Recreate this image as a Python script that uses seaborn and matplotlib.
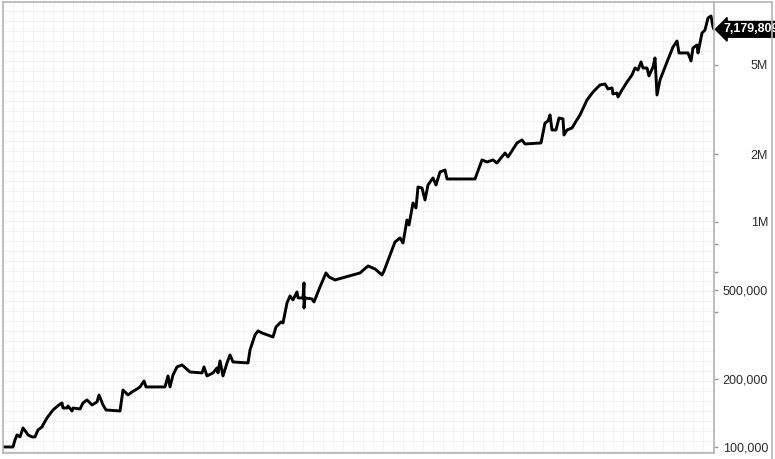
import numpy as np
import pandas as pd
import seaborn as sns
import matplotlib.pyplot as plt
import matplotlib.ticker as mticker
from matplotlib.lines import Line2D

# equity curve (trading day index, account value)
days = [1, 10, 12, 14, 17, 20, 23, 25, 29, 32, 35, 39, 40, 44, 50, 56, 59, 60, 64, 65,
        69, 70, 77, 80, 84, 89, 94, 96, 100, 103, 117, 120, 123, 125, 129, 134, 137, 141, 143, 162,
        165, 167, 170, 174, 179, 187, 199, 201, 204, 210, 214, 215, 217, 220, 224, 227, 230, 245, 247, 252,
        255, 259, 270, 273, 278, 280, 284, 287, 290, 294, 295, 300, 301, 301, 302, 309, 311, 317, 323, 326,
        332, 357, 365, 372, 379, 381, 392, 397, 400, 404, 406, 410, 413, 415, 419, 422, 425, 430, 433, 437,
        442, 444, 472, 479, 484, 490, 494, 502, 505, 514, 519, 522, 538, 542, 545, 547, 549, 553, 556, 560,
        561, 564, 569, 572, 577, 584, 590, 597, 602, 605, 609, 610, 614, 615, 619, 624, 629, 632, 635, 638,
        640, 644, 646, 650, 652, 654, 657, 664, 670, 674, 676, 685, 688, 690, 694, 695, 699, 702, 705, 708,
        710, 711]
equity = [100000, 100000, 107400, 113100, 110800, 121500, 116600, 113100, 110800, 110800,
          119000, 122700, 125300, 134600, 146000, 153700, 156900, 149000, 149000, 152100,
          144500, 149000, 147500, 156900, 161800, 153700, 158500, 170200, 153700, 146000,
          144500, 179200, 173800, 170200, 175600, 181000, 184800, 196500, 184800, 184800,
          206800, 184800, 208900, 226800, 231500, 215400, 213300, 226800, 206800, 213300,
          224500, 213300, 241200, 206800, 236300, 256400, 238700, 236300, 269800, 314600,
          327800, 321100, 308300, 341500, 359400, 355700, 436500, 469100, 450300, 488700,
          459600, 459600, 535800, 414700, 459600, 454900, 441000, 514300, 593400, 569600,
          552400, 593400, 637500, 618200, 581400, 605700, 814900, 848900, 806600, 1020700,
          969800, 1214600, 1154100, 1430700, 1416100, 1252600, 1460300, 1568700, 1460300, 1668100,
          1702500, 1552700, 1552700, 1886200, 1847800, 1886200, 1829000, 2025600, 1944600, 2244900,
          2314900, 2222000, 2244900, 2754200, 2811300, 2990000, 2563900, 2563900, 2899700, 2870200,
          2436300, 2563900, 2616800, 2754200, 2990000, 3484200, 3782500, 4063000, 4104800, 3900700,
          3940900, 3705800, 3743900, 3593800, 3860700, 4189600, 4502500, 4834600, 4736700, 5143000,
          4834600, 4834600, 4456600, 4886500, 5358000, 3668100, 4277200, 5143000, 5994800, 6374800,
          5638300, 5638300, 5196000, 5934500, 6119300, 5638300, 6918300, 7134000, 8066200, 8232000,
          7356400, 7179809]

tick_values = [100000, 200000, 400000, 500000, 600000, 800000, 1000000, 2000000, 5000000]
tick_labels = ['100,000', '200,000', '', '500,000', '', '', '1M', '2M', '5M']

df = pd.DataFrame({'day': days, 'equity': equity})

sns.set_style('white')
plt.rcParams['font.family'] = ['Liberation Sans', 'DejaVu Sans']

fig = plt.figure(figsize=(7.75, 4.59), dpi=100)
ax = fig.add_axes([3 / 775, 6 / 459, 711 / 775, 451 / 459])

sns.lineplot(data=df, x='day', y='equity', estimator=None, sort=False,
             color='black', lw=2.1, ax=ax)

ax.set_yscale('log')
ax.set_xlim(0, 711)
ax.set_ylim(94000, 9.5e6)
ax.set_xlabel('')
ax.set_ylabel('')

# fine background grid
ax.xaxis.set_major_locator(mticker.NullLocator())
ax.xaxis.set_minor_locator(mticker.MultipleLocator(10))
ax.yaxis.set_minor_locator(mticker.FixedLocator(10 ** np.arange(4.98, 7.0, 10 / 225)))
ax.yaxis.set_minor_formatter(mticker.NullFormatter())
ax.grid(True, which='minor', color='#f1f1f1', lw=0.6)
ax.grid(False, which='major')

# price scale on the right
ax.yaxis.tick_right()
ax.yaxis.set_major_locator(mticker.FixedLocator(tick_values))
ax.yaxis.set_major_formatter(mticker.FixedFormatter(tick_labels))
ax.tick_params(axis='x', which='both', length=0, labelbottom=False)
ax.tick_params(axis='y', which='minor', length=0)
ax.tick_params(axis='y', which='major', length=3, width=1, color='#999999',
               pad=36, labelsize=9, labelcolor='#2b2b2b')
for lab in ax.get_yticklabels():
    lab.set_horizontalalignment('right')

for sp in ax.spines.values():
    sp.set_color('#b4b4b4')
    sp.set_linewidth(1.2)

# outer frame around the price scale
fig.add_artist(Line2D([714 / 775, 772 / 775], [1 - 2 / 459, 1 - 2 / 459],
                      transform=fig.transFigure, color='#b4b4b4', lw=1.2))
fig.add_artist(Line2D([772 / 775, 772 / 775], [0, 1 - 2 / 459],
                      transform=fig.transFigure, color='#b4b4b4', lw=1.2))

# last value marker (runs off the right edge, as in the source chart)
ax.annotate(f"{equity[-1]:,}", xy=(1, equity[-1]), xycoords=ax.get_yaxis_transform(),
            xytext=(7, 0), textcoords='offset points', ha='left', va='center',
            color='white', fontsize=9, fontweight='bold', annotation_clip=False,
            bbox=dict(boxstyle='larrow,pad=0.15', fc='black', ec='black'))

fig.savefig('out.png', dpi=100)
